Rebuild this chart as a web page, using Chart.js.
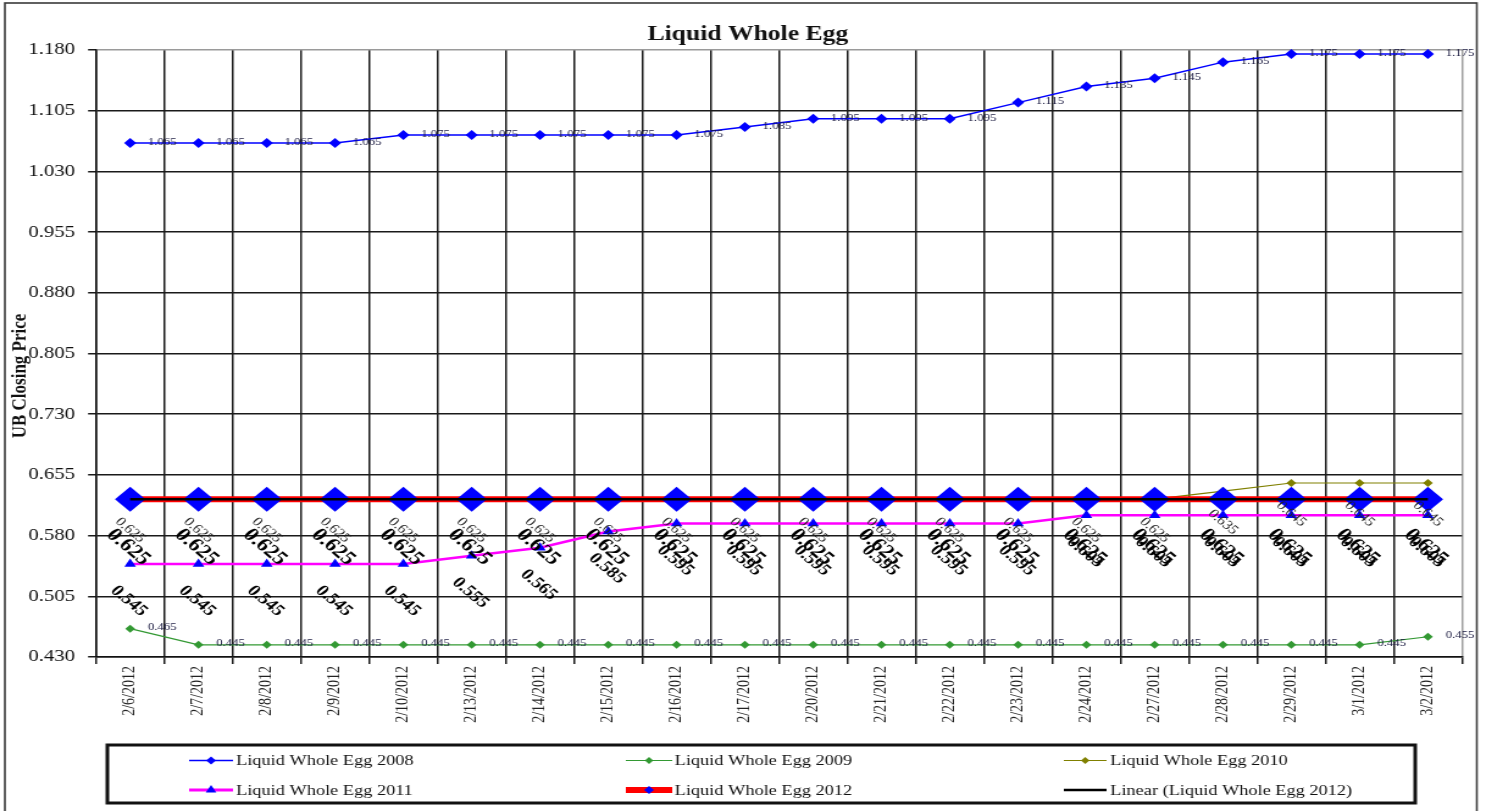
<!DOCTYPE html>
<html>
<head>
<meta charset="utf-8">
<title>Liquid Whole Egg</title>
<script src="https://cdn.jsdelivr.net/npm/chart.js@4.4.1/dist/chart.umd.min.js"></script>
<style>
  html, body { margin: 0; padding: 0; background: #fff; overflow: hidden; }
  /* the sheet is drawn narrow and widened, like the exported workbook chart */
  #wrap { width: 1219px; height: 811px; transform: scaleX(1.22); transform-origin: 0 0; }
  canvas { display: block; }
</style>
</head>
<body>
<div id="wrap"><canvas id="c" width="1219" height="811"></canvas></div>
<script>
// ---- data -------------------------------------------------------------
const categories = ['2/6/2012', '2/7/2012', '2/8/2012', '2/9/2012', '2/10/2012',
  '2/13/2012', '2/14/2012', '2/15/2012', '2/16/2012', '2/17/2012',
  '2/20/2012', '2/21/2012', '2/22/2012', '2/23/2012', '2/24/2012',
  '2/27/2012', '2/28/2012', '2/29/2012', '3/1/2012', '3/2/2012'];

const egg2008 = [1.065, 1.065, 1.065, 1.065, 1.075, 1.075, 1.075, 1.075, 1.075, 1.085,
  1.095, 1.095, 1.095, 1.115, 1.135, 1.145, 1.165, 1.175, 1.175, 1.175];
const egg2009 = [0.465, 0.445, 0.445, 0.445, 0.445, 0.445, 0.445, 0.445, 0.445, 0.445,
  0.445, 0.445, 0.445, 0.445, 0.445, 0.445, 0.445, 0.445, 0.445, 0.455];
const egg2010 = [0.625, 0.625, 0.625, 0.625, 0.625, 0.625, 0.625, 0.625, 0.625, 0.625,
  0.625, 0.625, 0.625, 0.625, 0.625, 0.625, 0.635, 0.645, 0.645, 0.645];
const egg2011 = [0.545, 0.545, 0.545, 0.545, 0.545, 0.555, 0.565, 0.585, 0.595, 0.595,
  0.595, 0.595, 0.595, 0.595, 0.605, 0.605, 0.605, 0.605, 0.605, 0.605];
const egg2012 = [0.625, 0.625, 0.625, 0.625, 0.625, 0.625, 0.625, 0.625, 0.625, 0.625,
  0.625, 0.625, 0.625, 0.625, 0.625, 0.625, 0.625, 0.625, 0.625, 0.625];

const yMin = 0.430;
const yMax = 1.180;
const yStep = 0.075;

// least-squares trend of the 2012 series over the category index
function linearTrend(values) {
  const n = values.length;
  let sx = 0, sy = 0, sxx = 0, sxy = 0;
  values.forEach((v, i) => { sx += i; sy += v; sxx += i * i; sxy += i * v; });
  const slope = (n * sxy - sx * sy) / (n * sxx - sx * sx);
  const icpt = (sy - slope * sx) / n;
  return values.map((_, i) => icpt + slope * i);
}
const trend2012 = linearTrend(egg2012);

// ---- styling ----------------------------------------------------------
const SERIF = '"Liberation Serif", "Times New Roman", serif';
const BLUE = '#0000ff';
const GREEN = '#339933';
const OLIVE = '#808000';
const MAGENTA = '#ff00ff';
const RED = '#ff0000';

const datasets = [
  {
    label: 'Liquid Whole Egg 2008', data: egg2008, order: 5,
    borderColor: BLUE, borderWidth: 1.5, pointStyle: 'rectRot', pointRadius: 5,
    pointBackgroundColor: BLUE, pointBorderColor: BLUE, pointBorderWidth: 0,
    legendLine: 1.5, legendMarker: { style: 'rectRot', r: 4, color: BLUE },
    valueLabel: { mode: 'right', font: '10.5px ' + SERIF, color: '#1a1a40', dx: 14.5, dy: -1 }
  },
  {
    label: 'Liquid Whole Egg 2009', data: egg2009, order: 4,
    borderColor: GREEN, borderWidth: 1.2, pointStyle: 'rectRot', pointRadius: 4,
    pointBackgroundColor: GREEN, pointBorderColor: GREEN, pointBorderWidth: 0,
    legendLine: 1.2, legendMarker: { style: 'rectRot', r: 3.5, color: GREEN },
    valueLabel: { mode: 'right', font: '10.5px ' + SERIF, color: '#1a1a40', dx: 14.5, dy: -1.5 }
  },
  {
    label: 'Liquid Whole Egg 2010', data: egg2010, order: 3,
    borderColor: OLIVE, borderWidth: 1.2, pointStyle: 'rectRot', pointRadius: 4,
    pointBackgroundColor: OLIVE, pointBorderColor: OLIVE, pointBorderWidth: 0,
    legendLine: 1.2, legendMarker: { style: 'rectRot', r: 3.5, color: OLIVE },
    valueLabel: { mode: 'rot', font: '13px ' + SERIF, color: '#202020', dx: 0, dy: 31 }
  },
  {
    label: 'Liquid Whole Egg 2011', data: egg2011, order: 2,
    borderColor: MAGENTA, borderWidth: 2.5, pointStyle: 'triangle', pointRadius: 5.5,
    pointBackgroundColor: BLUE, pointBorderColor: BLUE, pointBorderWidth: 0,
    legendLine: 3, legendMarker: { style: 'triangle', r: 5, color: BLUE },
    valueLabel: { mode: 'rot', font: 'bold 16px ' + SERIF, color: '#000', dx: -1, dy: 37 }
  },
  {
    label: 'Liquid Whole Egg 2012', data: egg2012, order: 1,
    borderColor: RED, borderWidth: 6, pointStyle: 'rectRot', pointRadius: 12.5,
    pointBackgroundColor: BLUE, pointBorderColor: BLUE, pointBorderWidth: 0,
    legendLine: 6, legendMarker: { style: 'rectRot', r: 4, color: BLUE },
    valueLabel: { mode: 'rot', font: 'bold 19px ' + SERIF, color: '#000', dx: -1.5, dy: 48 }
  },
  {
    label: 'Linear (Liquid Whole Egg 2012)', data: trend2012, order: 0,
    borderColor: '#000', borderWidth: 2.5, pointRadius: 0,
    legendLine: 2.5, legendMarker: null
  }
].map(d => Object.assign({ fill: false, tension: 0, clip: false, pointHoverRadius: 0 }, d));

// frame, title, axis title, value labels and legend box
const decorations = {
  id: 'decorations',
  beforeDraw(chart) {
    const ctx = chart.ctx;
    ctx.save();
    ctx.fillStyle = '#fff';
    ctx.fillRect(0, 0, chart.width, chart.height);
    ctx.strokeStyle = '#3a3a3a';
    ctx.lineWidth = 1.6;
    ctx.strokeRect(4, 3, 1206.5, 830);
    ctx.restore();
  },
  afterDatasetsDraw(chart) {
    const ctx = chart.ctx;
    ctx.save();
    chart.data.datasets.forEach((ds, di) => {
      const lab = ds.valueLabel;
      if (!lab) return;
      const meta = chart.getDatasetMeta(di);
      meta.data.forEach((pt, i) => {
        const txt = ds.data[i].toFixed(3);
        ctx.font = lab.font;
        ctx.fillStyle = lab.color;
        if (lab.mode === 'right') {
          ctx.textAlign = 'left';
          ctx.textBaseline = 'middle';
          ctx.fillText(txt, pt.x + lab.dx, pt.y + lab.dy);
        } else {
          ctx.save();
          ctx.translate(pt.x + lab.dx, pt.y + lab.dy);
          ctx.rotate(Math.PI / 4);
          ctx.textAlign = 'center';
          ctx.textBaseline = 'middle';
          ctx.fillText(txt, 0, 0);
          ctx.restore();
        }
      });
    });
    ctx.restore();
  },
  afterDraw(chart) {
    const ctx = chart.ctx;
    ctx.save();
    // chart title
    ctx.fillStyle = '#111';
    ctx.font = 'bold 21px ' + SERIF;
    ctx.textAlign = 'center';
    ctx.textBaseline = 'middle';
    ctx.fillText('Liquid Whole Egg', 613, 35);
    // value axis title
    ctx.save();
    ctx.translate(16.5, 376);
    ctx.rotate(-Math.PI / 2);
    ctx.font = 'bold 17px ' + SERIF;
    ctx.fillText('UB Closing Price', 0, 0);
    ctx.restore();

    // legend box
    ctx.strokeStyle = '#111';
    ctx.lineWidth = 3;
    ctx.strokeRect(88, 745, 1072, 58);
    const cols = [[155, 191, 193.5], [513, 551, 553], [872, 907, 910]];
    const rows = [760.5, 790];
    chart.data.datasets.forEach((ds, i) => {
      const [x0, x1, tx] = cols[i % 3];
      const y = rows[Math.floor(i / 3)];
      ctx.strokeStyle = ds.borderColor;
      ctx.lineWidth = ds.legendLine;
      ctx.beginPath();
      ctx.moveTo(x0, y);
      ctx.lineTo(x1, y);
      ctx.stroke();
      if (ds.legendMarker) {
        const m = ds.legendMarker;
        ctx.fillStyle = m.color;
        ctx.strokeStyle = m.color;
        Chart.helpers.drawPoint(ctx, { pointStyle: m.style, radius: m.r, rotation: 0, borderWidth: 0 }, (x0 + x1) / 2, y);
      }
      ctx.fillStyle = '#111';
      ctx.font = '15px ' + SERIF;
      ctx.textAlign = 'left';
      ctx.textBaseline = 'middle';
      ctx.fillText(ds.label, tx, y + 1);
    });
    ctx.restore();
  }
};

new Chart(document.getElementById('c'), {
  type: 'line',
  data: { labels: categories, datasets },
  options: {
    responsive: false,
    devicePixelRatio: 1,
    animation: false,
    events: [],
    layout: { padding: { left: 0, right: 20.6, top: 50, bottom: 0 } },
    plugins: { legend: { display: false }, title: { display: false }, tooltip: { enabled: false } },
    scales: {
      x: {
        type: 'category',
        offset: true,
        grid: {
          offset: true,
          drawOnChartArea: true,
          color: c => (c.type === 'tick' ? '#1a1a1a' : '#a0a0a0'),
          tickColor: '#1a1a1a',
          lineWidth: 1.5,
          tickLength: 7
        },
        border: { color: '#111', width: 1.5 },
        ticks: {
          autoSkip: false,
          minRotation: 90,
          maxRotation: 90,
          padding: 2,
          color: '#222',
          font: { family: SERIF, size: 14 }
        },
        afterFit(scale) { scale.height = 154; }
      },
      y: {
        type: 'linear',
        min: yMin,
        max: yMax,
        grid: {
          color: c => (c.tick && Math.abs(c.tick.value - yMax) < 1e-6 ? '#9a9a9a' : '#1a1a1a'),
          tickColor: '#1a1a1a',
          lineWidth: 1.5,
          tickLength: 6.5
        },
        border: { color: '#111', width: 1.5 },
        ticks: {
          stepSize: yStep,
          padding: 10.7,
          color: '#111',
          font: { family: SERIF, size: 17 },
          callback: v => Number(v).toFixed(3)
        },
        afterFit(scale) { scale.width = 78.7; }
      }
    }
  },
  plugins: [decorations]
});
</script>
</body>
</html>
